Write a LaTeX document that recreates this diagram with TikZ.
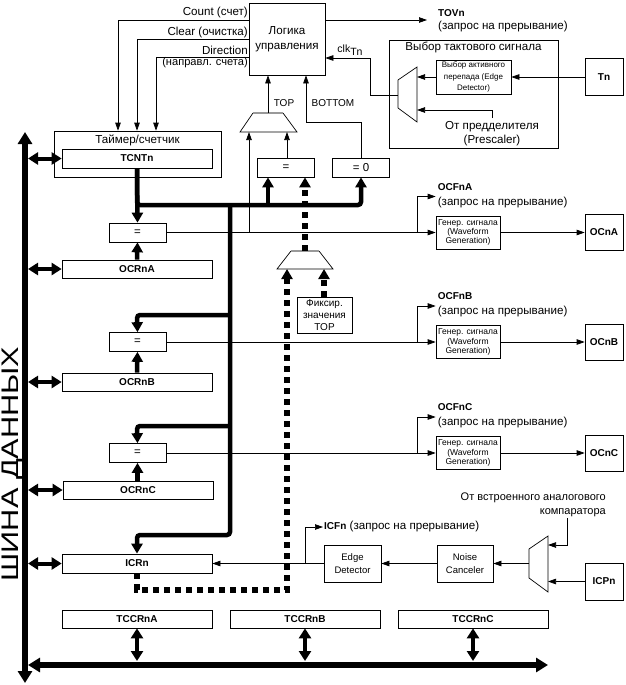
\documentclass[tikz,border=0pt]{standalone}
\usepackage{fontspec}
\setmainfont{Liberation Sans}
\newfontfamily\busfont{Liberation Sans}[FakeStretch=1.28]
\usetikzlibrary{arrows.meta}

\begin{document}
\begin{tikzpicture}[x=1pt,y=-1pt,
  box/.style={draw, line width=0.7pt, inner sep=0pt},
  txt/.style={font=\fontsize{11.6}{14}\selectfont, inner sep=0pt},
  small/.style={font=\fontsize{10}{12}\selectfont, inner sep=0pt},
  reg/.style={box, minimum width=150pt, minimum height=18pt, font=\fontsize{10}{12}\selectfont\bfseries},
  cmp/.style={box, minimum width=57pt, minimum height=19pt, font=\fontsize{11.5}{13}\selectfont},
  wgen/.style={box, minimum width=64pt, minimum height=33pt, align=center, font=\fontsize{8.5}{9.2}\selectfont},
  pin/.style={box, minimum width=38pt, minimum height=36pt, font=\fontsize{10}{12}\selectfont\bfseries},
  sig/.style={line width=0.7pt, -{Triangle[length=8pt,width=5.5pt]}},
  wire/.style={line width=0.7pt},
  bus/.style={line width=4.5pt, -{Triangle[length=10pt,width=11pt]}},
  dbus/.style={line width=5.5pt, dash pattern=on 6pt off 5pt, -{Triangle[length=10pt,width=11pt]}},
  bidir/.style={line width=4pt, {Triangle[length=10pt,width=12pt]}-{Triangle[length=10pt,width=12pt]}},
  mainbus/.style={line width=6pt, {Triangle[length=12pt,width=14pt]}-{Triangle[length=12pt,width=14pt]}},
  muxtop/.style={line width=1.4pt, draw=black!40}
]
\useasboundingbox (0,0) rectangle (625,685);

% data bus
\coordinate (busT) at (25,132);
\coordinate (busB) at (25,683);
\coordinate (busL) at (28,665);
\coordinate (busR) at (548,665);
\coordinate (busx) at (28,0);
\draw[mainbus] (busT) -- (busB);
\draw[mainbus] (busL) -- (busR);
\node[rotate=90, font=\busfont\fontsize{24}{24}\selectfont, inner sep=0pt] (busname) at (13,464) {ШИНА ДАННЫХ};

% control logic
\node[box, minimum width=76pt, minimum height=72pt, align=center, txt, font=\fontsize{11.6}{15}\selectfont] (logic) at (287,39) {Логика\\управления};

% timer/counter
\node[box, minimum width=167pt, minimum height=46pt] (timer) at (137.5,154) {};
\node[txt] (timertxt) at (137.5,140) {Таймер/счетчик};
\node[reg, minimum height=19pt] (tcnt) at (137,158.5) {TCNTn};

% registers
\node[reg] (ocra) at (137,269) {OCRnA};
\node[reg] (ocrb) at (137,382) {OCRnB};
\node[reg] (ocrc) at (138,490) {OCRnC};
\node[reg, minimum height=19pt] (icr) at (137,563.5) {ICRn};
\node[reg] (tccra) at (137,619) {TCCRnA};
\node[reg] (tccrb) at (305,619) {TCCRnB};
\node[reg] (tccrc) at (473,619) {TCCRnC};

% comparators
\node[cmp] (cmpa) at (137.5,232.5) {=};
\node[cmp] (cmpb) at (137.5,342) {=};
\node[cmp] (cmpc) at (137.5,453) {=};
\node[cmp] (eqtop) at (286,167.5) {=};
\node[cmp] (eqzero) at (361,167.5) {= 0};

% waveform generators and outputs
\node[wgen] (wga) at (468,232.5) {Генер. сигнала\\(Waveform\\Generation)};
\node[wgen] (wgb) at (468,342) {Генер. сигнала\\(Waveform\\Generation)};
\node[wgen] (wgc) at (468,453) {Генер. сигнала\\(Waveform\\Generation)};
\node[pin] (oca) at (604,232.5) {OCnA};
\node[pin] (ocb) at (604,342) {OCnB};
\node[pin] (occ) at (604,453) {OCnC};

% fixed TOP
\node[box, minimum width=55pt, minimum height=36pt, align=center, font=\fontsize{10}{12}\selectfont] (fix) at (324.5,315) {Фиксир.\\значения\\TOP};

% input capture
\node[box, minimum width=57pt, minimum height=37pt, align=center, font=\fontsize{9.5}{13}\selectfont] (edge) at (352.5,563.5) {Edge\\Detector};
\node[box, minimum width=56pt, minimum height=37pt, align=center, font=\fontsize{9.5}{13}\selectfont] (noise) at (465,563.5) {Noise\\Canceler};
\node[pin, minimum height=37pt] (icp) at (604,581.5) {ICPn};

% clock select
\node[box, minimum width=169pt, minimum height=108pt] (clksel) at (473.5,94) {};
\node[txt] (clkseltxt) at (473.5,47) {Выбор тактового сигнала};
\node[box, minimum width=75pt, minimum height=34pt, align=center, font=\fontsize{8}{11.5}\selectfont] (edgesel) at (473.5,77) {Выбор активного\\перепада (Edge\\Detector)};
\node[pin, minimum height=37pt] (tn) at (604,77) {Tn};
\node[txt, align=center] (presc) at (492,134) {От предделителя\\(Prescaler)};

% multiplexers
\coordinate (muxTa) at (249,132);
\coordinate (muxTb) at (287,132);
\coordinate (muxTo) at (268,113);
\draw[wire] (253,113) -- (240,132) -- (297,132) -- (283,113);
\draw[muxtop] (253,113) -- (283,113);
\coordinate (muxFa) at (287,269);
\coordinate (muxFb) at (324,269);
\coordinate (muxFo) at (305,251);
\draw[wire] (291,251) -- (277,269) -- (333,269) -- (319,251);
\draw[muxtop] (291,251) -- (319,251);
\coordinate (muxCa) at (417,77);
\coordinate (muxCb) at (417,110);
\coordinate (muxCo) at (398,95);
\draw[wire] (398,80) -- (398,108) -- (417,122) -- (417,67) -- cycle;
\coordinate (muxIa) at (548,545);
\coordinate (muxIb) at (548,581.5);
\coordinate (muxIo) at (529,563.5);
\draw[wire] (529,549) -- (529,578) -- (548,592) -- (548,536) -- cycle;

% control signals to the counter
\coordinate (cntc) at (118,20);
\coordinate (clrc) at (137,39);
\coordinate (dirc) at (156,57);
\draw[sig] (logic.west |- cntc) -| (cntc |- timer.north);
\draw[sig] (logic.west |- clrc) -| (clrc |- timer.north);
\draw[sig] (logic.west |- dirc) -| (dirc |- timer.north);
\node[txt, anchor=east] (cnttxt) at (248,12) {Count (счет)};
\node[txt, anchor=east] (clrtxt) at (248,32) {Clear (очистка)};
\node[txt, anchor=east] (dirtxt) at (248,50) {Direction};
\node[txt, anchor=east, font=\fontsize{11.1}{14}\selectfont] (dirtxt2) at (248,63) {(направл. счета)};

% overflow and clock
\coordinate (tov) at (427,20);
\draw[sig] (logic.east |- tov) -- (tov);
\node[txt, anchor=west, align=left, font=\fontsize{11.6}{13}\selectfont] (tovtxt) at (438,20.5) {\textbf{\fontsize{10}{13}\selectfont TOVn}\\(запрос на прерывание)};
\coordinate (clkc) at (370,58);
\draw[sig] (muxCo) -| (clkc) -- (clkc -| logic.east);
\node[small, font=\fontsize{10.5}{12}\selectfont] (clktxt) at (350,50) {clk\raisebox{-3pt}{Tn}};
\draw[sig] (tn.west) -- (edgesel.east);
\draw[sig] (edgesel.west) -- (muxCa);
\coordinate (prs) at (492,118);
\draw[sig] (prs) |- (muxCb);

% TOP / BOTTOM
\draw[sig] (muxTo) -- (muxTo |- logic.south);
\node[small] (toptxt) at (284,103) {TOP};
\coordinate (bot) at (306,122);
\draw[sig] (eqzero.north) |- (bot) -- (bot |- logic.south);
\node[small] (bottxt) at (333,103) {BOTTOM};
\draw[sig] (eqtop.north -| muxTb) -- (muxTb);

% counter value bus
\coordinate (tbus) at (268,205);
\coordinate (vbus) at (230,205);
\draw[bus, rounded corners=3pt] (tcnt.south) -- (137,205) -- (361,205) -- (eqzero.south);
\draw[bus] (tcnt.south) -- (cmpa.north);
\draw[bus] (tbus) -- (tbus |- eqtop.south);
\draw[bus, rounded corners=3pt] (vbus) -- (230,535) -- (137,535) -- (icr.north);
\draw[bus, rounded corners=3pt] (230,315) -- (137,315) -- (cmpb.north);
\draw[bus, rounded corners=3pt] (230,426) -- (137,426) -- (cmpc.north);
\draw[bus] (ocra.north) -- (cmpa.south);
\draw[bus] (ocrb.north) -- (cmpb.south);
\draw[bus] (ocrc.north -| cmpc.south) -- (cmpc.south);

% fixed TOP and capture path
\coordinate (dsh) at (287,590);
\draw[dbus] (icr.south) |- (dsh) -- (muxFa);
\draw[dbus] (fix.north -| muxFb) -- (muxFb);
\draw[dbus] (muxFo) -- (muxFo |- eqtop.south);

% compare outputs
\draw[sig] (cmpa.east) -- (wga.west);
\draw[sig] (cmpa.east -| muxTa) -- (muxTa);
\draw[sig] (cmpb.east) -- (wgb.west);
\draw[sig] (cmpc.east) -- (wgc.west);
\foreach \w/\l in {wga/A, wgb/B, wgc/C}{
  \coordinate (ocf\l) at ([xshift=-18pt]\w.west);
  \draw[sig] (ocf\l) |- ([yshift=36pt]\w.west);
  \node[txt, anchor=west, align=left, font=\fontsize{11.6}{15}\selectfont] (ocftxt\l) at ([xshift=2pt, yshift=37pt]\w.west) {\textbf{\fontsize{10}{15}\selectfont OCFn\l}\\(запрос на прерывание)};
}
\draw[sig] (wga.east) -- (oca.west);
\draw[sig] (wgb.east) -- (ocb.west);
\draw[sig] (wgc.east) -- (occ.west);

% input capture
\draw[sig] (edge.west) -- (icr.east);
\coordinate (icf) at (323,527);
\draw[sig] (305,563.5) |- (icf);
\node[txt, anchor=west] (icftxt) at (324,526) {\textbf{\fontsize{10}{12}\selectfont ICFn} (запрос на прерывание)};
\draw[sig] (noise.west) -- (edge.east);
\draw[sig] (muxIo) -- (noise.east);
\draw[sig] (icp.west) -- (muxIb);
\coordinate (acmp) at (567,518);
\draw[sig] (acmp) |- (muxIa);
\node[txt, anchor=east, align=right, font=\fontsize{11}{14}\selectfont] (acmptxt) at (606,504.5) {От встроенного аналогового\\компаратора};

% data bus links
\draw[bidir] (busx |- tcnt) -- (tcnt.west);
\draw[bidir] (busx |- ocra) -- (ocra.west);
\draw[bidir] (busx |- ocrb) -- (ocrb.west);
\draw[bidir] (busx |- ocrc) -- (ocrc.west);
\draw[bidir] (busx |- icr) -- (icr.west);
\draw[bidir] (tccra.south) -- (tccra.south |- 0,661);
\draw[bidir] (tccrb.south) -- (tccrb.south |- 0,661);
\draw[bidir] (tccrc.south) -- (tccrc.south |- 0,661);
\end{tikzpicture}
\end{document}
